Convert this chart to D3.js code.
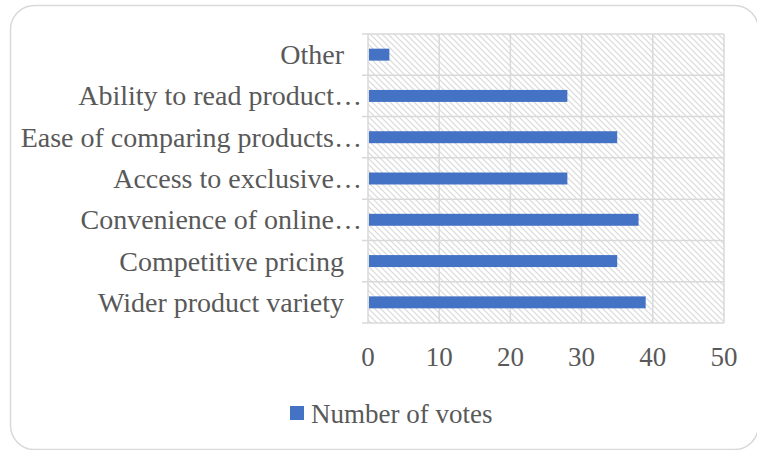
<!DOCTYPE html>
<html><head><meta charset="utf-8">
<script src="https://cdn.jsdelivr.net/npm/d3@7"></script>
<style>
html,body{margin:0;padding:0;background:#fff;}
svg{display:block;}
text{font-family:"Liberation Serif","Times New Roman",serif;fill:#595959;}
</style></head>
<body>
<script>
const categories = [
  "Other",
  "Ability to read product\u2026",
  "Ease of comparing products\u2026",
  "Access to exclusive\u2026",
  "Convenience of online\u2026",
  "Competitive pricing",
  "Wider product variety"
];
const votes = [3, 28, 35, 28, 38, 35, 39];
const xTicks = [0, 10, 20, 30, 40, 50];
const seriesName = "Number of votes";

const W = 757, H = 450;
const plot = {left: 368, right: 724, top: 34, bottom: 323};
const barColor = "#4472C4", gridColor = "#D9D9D9";

const svg = d3.select("body").append("svg").attr("width", W).attr("height", H);

// chart border
svg.append("rect").attr("x", 10.5).attr("y", 5.5).attr("width", 748).attr("height", 444)
  .attr("rx", 24).attr("fill", "#fff").attr("stroke", "#D9D9D9").attr("stroke-width", 1.5);

// hatch pattern
const defs = svg.append("defs");
const pat = defs.append("pattern").attr("id", "hatch").attr("patternUnits", "userSpaceOnUse")
  .attr("width", 6).attr("height", 6);
pat.append("rect").attr("width", 6).attr("height", 6).attr("fill", "#fff");
pat.append("path").attr("d", "M-1,-1 L7,7 M-1,5 L1,7 M5,-1 L7,1")
  .attr("stroke", "#D9D9D9").attr("stroke-width", 1.2);

const x = d3.scaleLinear().domain([0, 50]).range([plot.left, plot.right]);
const yBand = d3.scaleBand().domain(categories).range([plot.top, plot.bottom]).padding(0);
const yBar = d3.scaleBand().domain(categories).range([plot.top, plot.bottom])
  .paddingInner(0.71).paddingOuter(0.355);

svg.append("rect").attr("x", plot.left).attr("y", plot.top)
  .attr("width", plot.right - plot.left).attr("height", plot.bottom - plot.top)
  .attr("fill", "url(#hatch)");

// vertical gridlines
svg.append("g").selectAll("line").data(xTicks).join("line")
  .attr("x1", d => x(d)).attr("x2", d => x(d))
  .attr("y1", plot.top).attr("y2", plot.bottom)
  .attr("stroke", gridColor).attr("stroke-width", 1.5);

// horizontal lines at band boundaries, with small ticks left of axis
const bounds = categories.map(c => yBand(c)).concat([plot.bottom]);
svg.append("g").selectAll("line").data(bounds).join("line")
  .attr("x1", plot.left - 6).attr("x2", plot.right)
  .attr("y1", d => d).attr("y2", d => d)
  .attr("stroke", gridColor).attr("stroke-width", 1.5);

// bars
svg.append("g").selectAll("rect").data(categories).join("rect")
  .attr("x", x(0) + 1)
  .attr("y", d => yBar(d))
  .attr("width", (d, i) => x(votes[i]) - x(0) - 1)
  .attr("height", yBar.bandwidth())
  .attr("fill", barColor);

// category labels
svg.append("g").selectAll("text").data(categories).join("text")
  .attr("x", d => plot.left - (d.endsWith("\u2026") ? 6 : 24))
  .attr("y", d => yBand(d) + yBand.bandwidth() / 2)
  .attr("dy", "0.34em")
  .attr("text-anchor", "end")
  .style("font-size", "28px")
  .text(d => d);

// x tick labels
svg.append("g").selectAll("text").data(xTicks).join("text")
  .attr("x", d => x(d)).attr("y", 366)
  .attr("text-anchor", "middle")
  .style("font-size", "27px")
  .text(d => d);

// legend
const lg = svg.append("g").attr("transform", "translate(290,406)");
lg.append("rect").attr("width", 14).attr("height", 14).attr("fill", barColor);
lg.append("text").attr("x", 21).attr("y", 16.5).style("font-size", "27px").text(seriesName);
</script>
</body></html>
